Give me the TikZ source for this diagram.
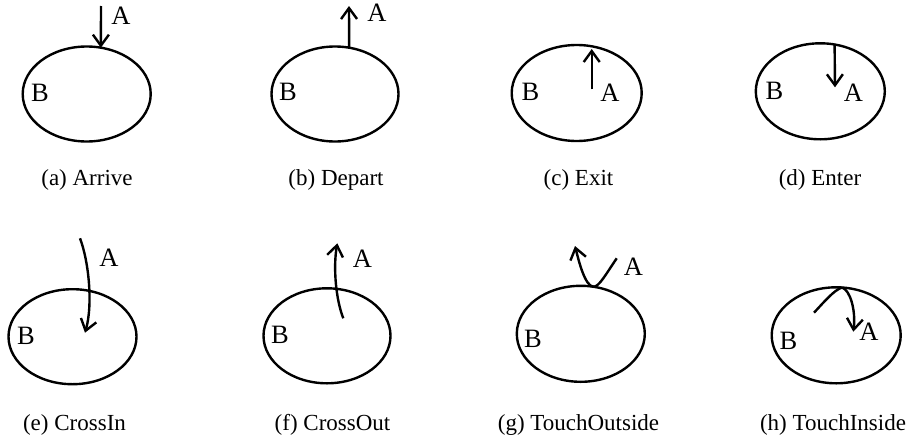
\documentclass[tikz,border=0pt]{standalone}
\usepackage{fontspec}
\setmainfont{Liberation Serif}
\usetikzlibrary{shapes.geometric,arrows.meta}
\begin{document}
\begin{tikzpicture}[x=1pt,y=-1pt,
  region/.style={ellipse,draw,line width=2.4pt,inner sep=0pt,outer sep=0pt},
  lbl/.style={anchor=base,inner sep=0pt,font=\fontsize{26.5}{30}\selectfont},
  captext/.style={anchor=base,inner sep=0pt,font=\fontsize{23}{27}\selectfont},
  arr/.style={line width=2.4pt,-{Straight Barb[length=11pt,width=16pt,line width=2.4pt]}},
  crv/.style={line width=2.4pt}]
\useasboundingbox (0,0) rectangle (912,439);
% (a)
\node[region,minimum width=128pt,minimum height=95pt] (Ba) at (86.7,94) {};
\coordinate (a0) at (101,6);
\draw[arr] (a0) -- (Ba.73);
\node[lbl] (aA) at (121,24) {A};
\node[lbl] (aB) at (40,101) {B};
\node[captext] (ca) at (87,185.7) {(a) Arrive};
% (b)
\node[region,minimum width=127pt,minimum height=95pt] (Bb) at (335,94) {};
\coordinate (b1) at (349,6);
\draw[arr] (Bb.73) -- (b1);
\node[lbl] (bA) at (377,21.7) {A};
\node[lbl] (bB) at (288,100) {B};
\node[captext] (cb) at (336,185.7) {(b) Depart};
% (c)
\node[region,minimum width=130pt,minimum height=96pt] (Bc) at (576.7,93) {};
\coordinate (c0) at (591.7,89.3);
\coordinate (c1) at (591.7,49);
\draw[arr] (c0) -- (c1);
\node[lbl] (cA) at (610,101.7) {A};
\node[lbl] (cB) at (530.5,100) {B};
\node[captext] (cc) at (578.5,185.7) {(c) Exit};
% (d)
\node[region,minimum width=129pt,minimum height=96pt] (Bd) at (820.3,91.3) {};
\coordinate (d1) at (835,87.3);
\draw[arr] (Bd.73) -- (d1);
\node[lbl] (dA) at (853.5,101.7) {A};
\node[lbl] (dB) at (774.5,99.3) {B};
\node[captext] (cd) at (820,185.7) {(d) Enter};
% (e)
\node[region,minimum width=128pt,minimum height=95pt] (Be) at (72.5,336.7) {};
\coordinate (e0) at (80,238.3);
\coordinate (e1) at (85,332.7);
\draw[arr] (e0) .. controls (89,262) and (93,305) .. (e1);
\node[lbl] (eA) at (109,266.7) {A};
\node[lbl] (eB) at (26,344) {B};
\node[captext] (ce) at (74.5,430.5) {(e) CrossIn};
% (f)
\node[region,minimum width=127pt,minimum height=95pt] (Bf) at (327,335.8) {};
\coordinate (f0) at (343.3,318.3);
\coordinate (f1) at (337.3,243.3);
\draw[arr] (f0) .. controls (336,300) and (333,268) .. (f1);
\node[lbl] (fA) at (362.5,267) {A};
\node[lbl] (fB) at (280,343) {B};
\node[captext] (cf) at (332.5,430.5) {(f) CrossOut};
% (g)
\node[region,minimum width=128pt,minimum height=96pt] (Bg) at (580.8,333.8) {};
\coordinate (g0) at (616.7,258.3);
\coordinate (g1) at (575,246);
\draw[crv] (g0) .. controls (606,274) and (599,287) .. (Bg.75);
\draw[arr] (Bg.75) .. controls (585,286) and (579,262) .. (g1);
\node[lbl] (gA) at (633.5,275) {A};
\node[lbl] (gB) at (533,347.7) {B};
\node[captext] (cg) at (578.5,430.5) {(g) TouchOutside};
% (h)
\node[region,minimum width=129pt,minimum height=96pt] (Bh) at (836.2,335.3) {};
\coordinate (h0) at (814,312.7);
\coordinate (h1) at (853.3,331.7);
\draw[crv] (h0) .. controls (824,302) and (834,290) .. (Bh.83);
\draw[arr] (Bh.83) .. controls (850,290) and (856,310) .. (h1);
\node[lbl] (hA) at (869,340) {A};
\node[lbl] (hB) at (788.5,349.3) {B};
\node[captext] (ch) at (833,430.5) {(h) TouchInside};
\end{tikzpicture}
\end{document}
